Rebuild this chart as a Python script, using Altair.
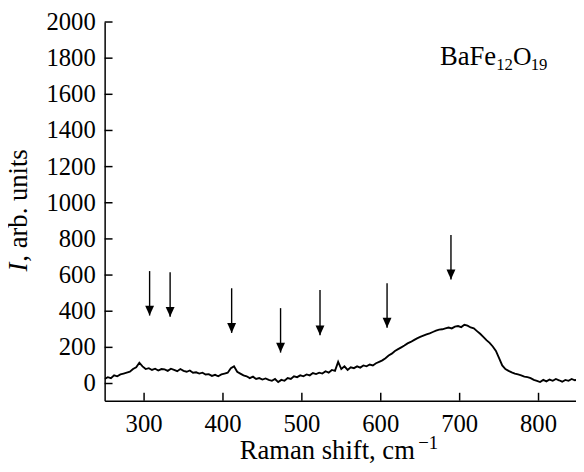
import altair as alt
import pandas as pd

# ---- data ----
shift = list(range(250, 851, 4))
intensity = [
    25, 35, 30, 45, 40, 50, 55, 60, 65, 80,
    90, 115, 95, 80, 85, 75, 82, 72, 80, 78,
    70, 82, 75, 68, 80, 70, 65, 72, 60, 62,
    55, 60, 50, 52, 42, 48, 40, 50, 55, 60,
    85, 95, 65, 55, 45, 40, 30, 38, 25, 30,
    22, 28, 20, 15, 25, 8, 20, 15, 30, 25,
    40, 35, 45, 40, 50, 45, 58, 52, 60, 55,
    68, 60, 75, 70, 120, 80, 95, 75, 90, 85,
    95, 88, 100, 95, 105, 100, 112, 120, 128, 140,
    155, 165, 180, 190, 200, 210, 222, 230, 240, 250,
    258, 265, 272, 278, 285, 292, 298, 300, 305, 310,
    305, 315, 318, 312, 325, 320, 310, 305, 290, 275,
    258, 240, 225, 205, 180, 140, 100, 80, 70, 62,
    55, 50, 45, 38, 35, 30, 20, 15, 8, 20,
    12, 22, 15, 25, 18, 10, 20, 15, 25, 18,
    22,
]

arrow_x = [307, 333, 411, 473, 523, 608, 689]
arrow_top = [622, 615, 527, 417, 517, 555, 822]
arrow_tip = [376, 369, 280, 171, 267, 309, 576]

x_ticks = [300, 400, 500, 600, 700, 800]
y_ticks = [0, 200, 400, 600, 800, 1000, 1200, 1400, 1600, 1800, 2000]

x_title_main = "Raman shift, cm"
x_title_sup = "−1"
y_title_italic = "I"
y_title_rest = ", arb. units"
formula_parts = ["BaFe", "12", "O", "19"]

# ---- chart ----
W, H = 478, 384
FONT = "Liberation Serif"

df = pd.DataFrame({"shift": shift, "I": intensity})
arrows = pd.DataFrame({"shift": arrow_x, "I": arrow_top, "I2": arrow_tip})

xs = alt.Scale(domain=[250, 847.5], nice=False, zero=False)
ys = alt.Scale(domain=[-95, 2000], nice=False, zero=False)

axis_style = dict(
    labels=False,
    ticks=False,
    tickSize=0,
    title="",
    grid=False,
    domainColor="black",
    domainWidth=1.5,
)

X = alt.X("shift:Q", scale=xs, axis=alt.Axis(**axis_style))
Y = alt.Y("I:Q", scale=ys, axis=alt.Axis(**axis_style))

line = alt.Chart(df).mark_line(color="black", strokeWidth=1.9, clip=True).encode(x=X, y=Y)

xtick_rules = alt.Chart(pd.DataFrame({"shift": x_ticks})).mark_rule(
    color="black", strokeWidth=1.5
).encode(x=X, y=alt.value(H), y2=alt.value(H - 8))

ytick_rules = alt.Chart(pd.DataFrame({"I": y_ticks})).mark_rule(
    color="black", strokeWidth=1.5
).encode(y=Y, x=alt.value(0), x2=alt.value(8))

xtick_labels = alt.Chart(pd.DataFrame({"shift": x_ticks})).mark_text(
    font=FONT, fontSize=25, align="center", baseline="alphabetic", color="black"
).encode(x=X, y=alt.value(H + 32), text=alt.Text("shift:Q", format="d"))

ytick_labels = alt.Chart(pd.DataFrame({"I": y_ticks})).mark_text(
    font=FONT, fontSize=25, align="right", baseline="middle", color="black"
).encode(y=Y, x=alt.value(-9), text=alt.Text("I:Q", format="d"))

shafts = alt.Chart(arrows).mark_rule(color="black", strokeWidth=1.4).encode(
    x=X, y=Y, y2="I2:Q"
)

heads = alt.Chart(arrows).mark_point(
    shape="M-0.9,-2L0.9,-2L0,0Z", filled=True, size=100, color="black", opacity=1
).encode(x=X, y=alt.Y("I2:Q", scale=ys, axis=alt.Axis(**axis_style)))


def label(txt, px, py, **opts):
    base = dict(font=FONT, align="left", baseline="alphabetic", color="black")
    base.update(opts)
    return alt.Chart(pd.DataFrame({"t": [txt]})).mark_text(**base).encode(
        text="t:N", x=alt.value(px), y=alt.value(py)
    )


ytitle = label(y_title_italic, -79, 253, fontSize=27, fontStyle="italic", angle=270) + label(
    y_title_rest, -79, 243, fontSize=27, angle=270
)

xtitle = label(x_title_main, 137, 443, fontSize=27) + label(x_title_sup, 318, 433, fontSize=19)

formula = (
    label(formula_parts[0], 340, 44, fontSize=27)
    + label(formula_parts[1], 397, 49, fontSize=17)
    + label(formula_parts[2], 414, 44, fontSize=26)
    + label(formula_parts[3], 432, 49, fontSize=17)
)

chart = (
    alt.layer(
        line, xtick_rules, ytick_rules, xtick_labels, ytick_labels,
        shafts, heads, ytitle, xtitle, formula,
    )
    .properties(
        width=W,
        height=H,
        autosize=alt.AutoSizeParams(type="none"),
        padding={"left": 98, "top": 11, "right": 0, "bottom": 61},
        background="white",
    )
    .configure_view(stroke=None)
)

chart.save("out.html", embed_options={"renderer": "svg", "actions": False})
